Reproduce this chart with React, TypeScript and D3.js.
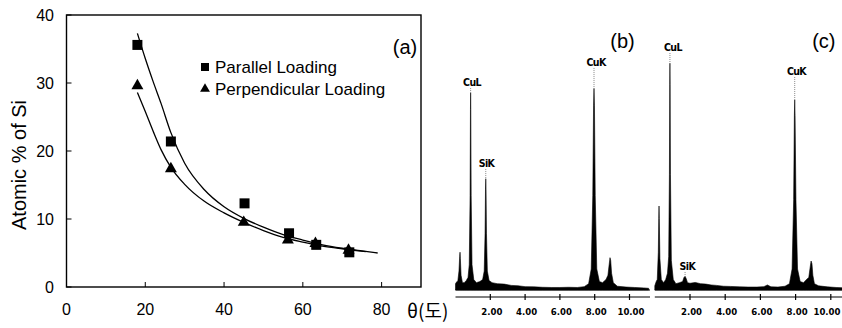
// Panel (a): Si content vs. angle, two loading directions with fitted curves.
// Panels (b), (c): EDS spectra (Cu L / Si K / Cu K peaks).
import * as d3 from "d3";

const W = 842;
const H = 328;

// ---- panel (a) data ----
const angleTicks = [0, 20, 40, 60, 80];
const pctTicks = [0, 10, 20, 30, 40];

const parallelAngle = [18, 26.5, 45.2, 56.5, 63.4, 71.8];
const parallelPct = [35.6, 21.4, 12.3, 7.9, 6.2, 5.1];
const perpAngle = [18, 26.5, 45, 56.2, 63.2, 71.6];
const perpPct = [29.6, 17.4, 9.5, 6.9, 6.4, 5.4];

// fitted curves
const parallelFitAngle = [18, 20, 22, 24, 26.5, 30, 35, 40, 45, 50, 55, 60, 65, 70, 75, 79];
const parallelFitPct = [37.3, 33.6, 30.2, 27.0, 22.7, 18.2, 14.3, 11.8, 10.1, 8.8, 7.7, 6.9, 6.2, 5.7, 5.3, 5.0];
const perpFitAngle = [18, 20, 22, 24, 26.5, 30, 35, 40, 45, 50, 55, 60, 65, 70, 76];
const perpFitPct = [28.6, 25.8, 22.9, 20.2, 17.6, 15.1, 12.6, 10.9, 9.5, 8.3, 7.3, 6.6, 6.0, 5.6, 5.2];

// ---- panels (b), (c) data: energy (keV) and counts (arb.) ----
const keVTicks = [2, 4, 6, 8, 10];
const keVTickLabels = ["2.00", "4.00", "6.00", "8.00", "10.00"];

const specBEnergy = [
  0, 0.08, 0.13, 0.2, 0.24, 0.26, 0.28, 0.32, 0.4, 0.5, 0.62,
  0.72, 0.79, 0.84, 0.86, 0.87, 0.88, 0.9, 0.95, 1.05, 1.2, 1.4,
  1.56, 1.65, 1.7, 1.725, 1.74, 1.755, 1.78, 1.83, 1.93,
  2.1, 2.4, 2.8, 3.2, 3.6, 4.0, 4.5, 5.0, 5.5, 6.0, 6.5, 7.0, 7.4,
  7.65, 7.8, 7.89, 7.935, 7.96, 7.985, 8.03, 8.12, 8.27, 8.45, 8.65,
  8.76, 8.83, 8.88, 8.92, 8.97, 9.07, 9.3, 9.8, 10.3, 10.8, 11.1,
];
const specBCounts = [
  3, 4, 4, 9, 16, 18, 15, 7, 3.5, 3.5, 4.5,
  6, 12, 45, 86, 94, 86, 45, 12, 5, 3.5, 4,
  5, 9, 27, 48, 53, 48, 27, 9, 4.5,
  3.5, 3, 2.8, 2.2, 2.0, 1.6, 1.5, 1.3, 1.2, 1.2, 1.3, 1.2, 1.6,
  3, 10, 45, 88, 96, 88, 45, 10, 4, 3.5, 5,
  7, 12, 15.4, 14, 8, 3.5, 1.8, 1.4, 1.2, 1.0, 0.8,
];

const specCEnergy = [
  0, 0.08, 0.14, 0.2, 0.225, 0.24, 0.255, 0.29, 0.37, 0.5, 0.62,
  0.72, 0.79, 0.83, 0.85, 0.86, 0.87, 0.89, 0.94, 1.05, 1.2, 1.4,
  1.58, 1.66, 1.72, 1.78, 1.86,
  2.0, 2.3, 2.6, 2.9, 3.2, 3.5, 3.9, 4.3, 4.8, 5.3, 5.8, 6.2, 6.4, 6.6, 7.0, 7.4,
  7.65, 7.8, 7.89, 7.93, 7.95, 7.97, 8.02, 8.11, 8.26, 8.45, 8.62,
  8.75, 8.83, 8.88, 8.93, 8.98, 9.07, 9.3, 9.8, 10.3, 10.9,
];
const specCCounts = [
  2, 4, 5, 18, 34, 40, 34, 15, 5, 3.5, 5,
  8, 16, 55, 98, 108, 98, 55, 14, 5, 3, 3.5,
  4, 6, 6.5, 5.5, 3.5,
  3.2, 3.6, 3.0, 2.8, 2.4, 2.2, 1.8, 1.7, 1.5, 1.4, 1.4, 1.6, 2.4, 1.5, 1.4, 1.8,
  3, 10, 43, 83, 90.5, 83, 43, 10, 4, 3.5, 5,
  6, 11, 13.8, 12.5, 7, 3, 2, 1.5, 1.2, 1.0,
];

// peak labels: text, label energy, label height, peak energy, peak height
const labelsB = [
  { text: "CuL", e: 0.95, c: 99, pe: 0.87, pc: 94 },
  { text: "SiK", e: 1.78, c: 60.5, pe: 1.74, pc: 53 },
  { text: "CuK", e: 8.08, c: 108.6, pe: 7.96, pc: 96 },
];
const labelsC = [
  { text: "CuL", e: 1.03, c: 115.7, pe: 0.86, pc: 108 },
  { text: "SiK", e: 1.85, c: 11.4, pe: 1.72, pc: 6.5 },
  { text: "CuK", e: 8.05, c: 104.3, pe: 7.95, pc: 90.5 },
];

const SANS = "'Liberation Sans', Arial, sans-serif";
const NARROW = "'DejaVu Sans Condensed', 'Liberation Sans Narrow', sans-serif";

type Label = { text: string; e: number; c: number; pe: number; pc: number };

function Spectrum({
  x0, x10, energy, counts, labels, tag, axisEnd,
}: {
  x0: number; x10: number; energy: number[]; counts: number[];
  labels: Label[]; tag: string; axisEnd: number;
}) {
  const x = d3.scaleLinear().domain([0, 10]).range([x0, x10]);
  const y = d3.scaleLinear().domain([0, 100]).range([290, 80]);
  const pts = energy.map((e, i) => [e, counts[i]] as [number, number]);
  const area = d3
    .area<[number, number]>()
    .x((d) => x(d[0]))
    .y0(y(0))
    .y1((d) => y(d[1]));
  const axisY = 297;
  return (
    <g>
      <path d={area(pts) ?? ""} fill="#000" stroke="#000" strokeWidth={0.6} />
      <line x1={x(0)} x2={axisEnd} y1={y(0)} y2={y(0)} stroke="#000" strokeWidth={1.2} />
      <line x1={x(0)} x2={axisEnd} y1={axisY} y2={axisY} stroke="#000" strokeWidth={1.2} />
      {keVTicks.map((t, i) => {
        // keep the last label inside the page
        const cx = Math.min(x(t) + 1.5, W - 15);
        return (
          <g key={t}>
            <line x1={x(t)} x2={x(t)} y1={axisY - 3} y2={axisY + 3} stroke="#000" strokeWidth={1.2} />
            <text
              x={cx}
              y={315}
              textAnchor="middle"
              fontFamily={NARROW}
              fontWeight="bold"
              fontSize={9.5}
            >
              {keVTickLabels[i]}
            </text>
          </g>
        );
      })}
      {labels.map((l) => (
        <g key={l.text}>
          <line
            x1={x(l.pe)}
            x2={x(l.pe)}
            y1={y(l.c) + 6}
            y2={y(l.pc)}
            stroke="#888"
            strokeWidth={1}
            strokeDasharray="1 1"
          />
          <text
            x={x(l.e)}
            y={y(l.c) + 4}
            textAnchor="middle"
            fontFamily={NARROW}
            fontWeight="bold"
            fontSize={10.5}
            letterSpacing={-0.6}
          >
            {l.text}
          </text>
        </g>
      ))}
      <text x={x10 - 7} y={48} textAnchor="middle" fontFamily={SANS} fontSize={20}>
        {tag}
      </text>
    </g>
  );
}

export default function App() {
  const x = d3.scaleLinear().domain([0, 90]).range([66.5, 421]);
  const y = d3.scaleLinear().domain([0, 40]).range([287, 15]);

  const line = d3
    .line<[number, number]>()
    .x((d) => x(d[0]))
    .y((d) => y(d[1]))
    .curve(d3.curveMonotoneX);

  const parFit = parallelFitAngle.map((a, i) => [a, parallelFitPct[i]] as [number, number]);
  const perpFit = perpFitAngle.map((a, i) => [a, perpFitPct[i]] as [number, number]);

  const square = d3.symbol(d3.symbolSquare, 100)();
  const triangle = d3.symbol(d3.symbolTriangle, 62)();
  const squareSmall = d3.symbol(d3.symbolSquare, 64)();
  const triangleSmall = d3.symbol(d3.symbolTriangle, 42)();

  return (
    <svg
      width={W}
      height={H}
      style={{ position: "absolute", left: 0, top: 0, background: "#fff" }}
    >
      <rect width={W} height={H} fill="#fff" />
      {/* ---- panel (a) ---- */}
      <g fontFamily={SANS}>
        <rect
          x={x(0)}
          y={y(40)}
          width={x(90) - x(0)}
          height={y(0) - y(40)}
          fill="none"
          stroke="#000"
          strokeWidth={1.4}
        />
        {angleTicks.map((t) => (
          <g key={t}>
            <line x1={x(t)} x2={x(t)} y1={y(0)} y2={y(0) - 5} stroke="#000" strokeWidth={1} />
            <text x={x(t)} y={315} textAnchor="middle" fontSize={16}>
              {t}
            </text>
          </g>
        ))}
        {pctTicks.map((t) => (
          <g key={t}>
            <line x1={x(0)} x2={x(0) + 5} y1={y(t)} y2={y(t)} stroke="#000" strokeWidth={1} />
            <text x={54} y={y(t)} dy="0.36em" textAnchor="end" fontSize={16}>
              {t}
            </text>
          </g>
        ))}
        <text
          transform={`translate(26,${(y(0) + y(40)) / 2 + 14}) rotate(-90)`}
          textAnchor="middle"
          fontSize={20}
        >
          Atomic % of Si
        </text>
        <text x={407} y={318} fontFamily="'Noto Sans CJK KR', sans-serif" fontSize={19}>
          θ(도)
        </text>
        <text x={405} y={54} textAnchor="middle" fontSize={20}>
          (a)
        </text>

        <path d={line(parFit) ?? ""} fill="none" stroke="#000" strokeWidth={1.3} />
        <path d={line(perpFit) ?? ""} fill="none" stroke="#000" strokeWidth={1.3} />

        {perpAngle.map((a, i) => (
          <path key={`t${i}`} d={triangle ?? ""} transform={`translate(${x(a)},${y(perpPct[i])})`} fill="#000" />
        ))}
        {parallelAngle.map((a, i) => (
          <path key={`s${i}`} d={square ?? ""} transform={`translate(${x(a)},${y(parallelPct[i])})`} fill="#000" />
        ))}

        {/* legend */}
        <path d={squareSmall ?? ""} transform="translate(205,67)" fill="#000" />
        <text x={215} y={73} fontSize={17}>
          Parallel Loading
        </text>
        <path d={triangleSmall ?? ""} transform="translate(205,89)" fill="#000" />
        <text x={215} y={95} fontSize={17}>
          Perpendicular Loading
        </text>
      </g>

      {/* ---- panels (b) and (c) ---- */}
      <Spectrum
        x0={455.5}
        x10={629.5}
        energy={specBEnergy}
        counts={specBCounts}
        labels={labelsB}
        tag="(b)"
        axisEnd={650}
      />
      <Spectrum
        x0={654.8}
        x10={830.8}
        energy={specCEnergy}
        counts={specCCounts}
        labels={labelsC}
        tag="(c)"
        axisEnd={842}
      />
    </svg>
  );
}
